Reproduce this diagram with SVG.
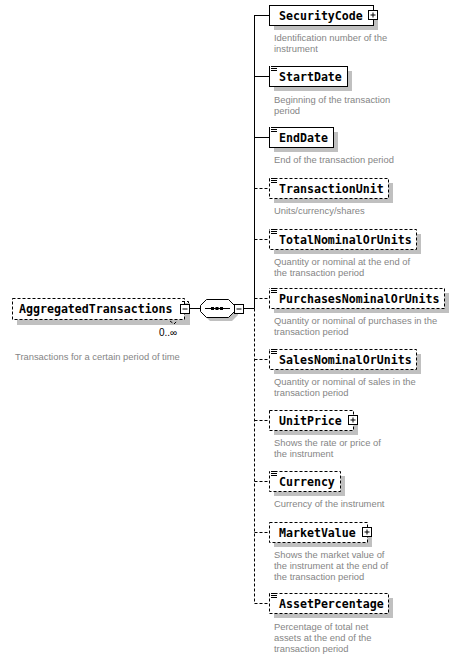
<svg xmlns="http://www.w3.org/2000/svg" width="460" height="658" viewBox="0 0 460 658">
<style>
.bg{fill:#fff}
.sh{fill:#c0c0c0}
.box{fill:#fff;stroke:#000;stroke-width:1}
.opt{stroke-dasharray:3,2}
.nm{font-family:"DejaVu Sans Mono","Liberation Mono",monospace;font-weight:bold;font-size:11.6px;fill:#000}
.ds{font-family:"Liberation Sans",Arial,sans-serif;font-size:9.4px;fill:#858585}
.oc{font-family:"Liberation Sans",Arial,sans-serif;font-size:10px;fill:#000}
.ln{stroke:#000;stroke-width:1;fill:none}
.ic{fill:#fff;stroke:#000;stroke-width:1}
</style>
<defs>
<g id="plus"><rect class="ic" x="0.5" y="0.5" width="9" height="9"/><path class="ln" d="M2.5 5H7.5M5 2.5V7.5"/></g>
<g id="minus"><rect class="ic" x="0.5" y="0.5" width="9" height="9"/><path class="ln" d="M2.5 5H7.5"/></g>
<g id="note"><rect fill="#fff" x="0" y="0" width="7" height="6"/><path class="ln" d="M1 0.5H7M1 2.5H7M1 4.5H7"/></g>
</defs>
<rect class="bg" width="460" height="658"/>

<g id="connectors">
<path class="ln" d="M189 308.5H200M244 308.5H254.5"/>
<path class="ln" d="M254.5 15V308.5"/>
<path class="ln opt" d="M254.5 308.5V603.5"/>
<path class="ln" d="M254.5 15.5H269M254.5 76.5H269M254.5 137.5H269"/>
<path class="ln opt" d="M254.5 188.5H269M254.5 239.5H269M254.5 298.5H269M254.5 359.5H269M254.5 420.5H269M254.5 481.5H269M254.5 532.5H269M254.5 603.5H269"/>
</g>

<g id="AggregatedTransactions">
<rect class="sh" x="17" y="303" width="173" height="22"/>
<rect class="box opt" x="12.5" y="298.5" width="172" height="21"/>
<path class="ln opt" d="M182 301.5H188.5V305"/>
<path class="ln opt" d="M170 321l4 3 3-3"/>
<text class="nm" x="19" y="313">AggregatedTransactions</text>
<use href="#minus" x="180" y="304"/>
<text class="oc" x="159" y="336">0..∞</text>
<text class="ds" x="15" y="360">Transactions for a certain period of time</text>
</g>

<g id="sequence">
<polygon class="sh" points="210,303 232,303 238,309 238,315 232,321 210,321 204,315 204,309"/>
<polygon class="box" points="206.5,299.5 228.5,299.5 234.5,305.5 234.5,311.5 228.5,317.5 206.5,317.5 200.5,311.5 200.5,305.5"/>
<path class="ln" d="M205 308.5H230"/>
<rect x="211" y="307" width="3" height="3" fill="#000"/>
<rect x="215.5" y="307" width="3" height="3" fill="#000"/>
<rect x="220" y="307" width="3" height="3" fill="#000"/>
<use href="#minus" x="234" y="304"/>
</g>

<g id="SecurityCode">
<rect class="sh" x="274" y="10" width="104" height="20"/>
<rect class="box" x="269.5" y="5.5" width="104" height="20"/>
<text class="nm" x="279" y="19.5">SecurityCode</text>
<use href="#plus" x="368" y="10"/>
<text class="ds" x="274" y="41">Identification number of the</text>
<text class="ds" x="274" y="52">instrument</text>
</g>

<g id="StartDate">
<rect class="sh" x="274" y="71" width="78" height="20"/>
<rect class="box" x="269.5" y="66.5" width="78" height="20"/>
<use href="#note" x="270" y="66"/>
<text class="nm" x="279" y="80.5">StartDate</text>
<text class="ds" x="274" y="102.5">Beginning of the transaction</text>
<text class="ds" x="274" y="113.5">period</text>
</g>

<g id="EndDate">
<rect class="sh" x="274" y="132" width="64" height="20"/>
<rect class="box" x="269.5" y="127.5" width="64" height="20"/>
<use href="#note" x="270" y="127"/>
<text class="nm" x="279" y="141.5">EndDate</text>
<text class="ds" x="274" y="163">End of the transaction period</text>
</g>

<g id="TransactionUnit">
<rect class="sh" x="274" y="183" width="119" height="20"/>
<rect class="box opt" x="269.5" y="178.5" width="119" height="20"/>
<use href="#note" x="270" y="178"/>
<text class="nm" x="279" y="192.5">TransactionUnit</text>
<text class="ds" x="274" y="214">Units/currency/shares</text>
</g>

<g id="TotalNominalOrUnits">
<rect class="sh" x="274" y="234" width="147" height="20"/>
<rect class="box opt" x="269.5" y="229.5" width="147" height="20"/>
<use href="#note" x="270" y="229"/>
<text class="nm" x="279" y="243.5">TotalNominalOrUnits</text>
<text class="ds" x="274" y="265">Quantity or nominal at the end of</text>
<text class="ds" x="274" y="276">the transaction period</text>
</g>

<g id="PurchasesNominalOrUnits">
<rect class="sh" x="274" y="293" width="175" height="20"/>
<rect class="box opt" x="269.5" y="288.5" width="175" height="20"/>
<use href="#note" x="270" y="288"/>
<text class="nm" x="279" y="302.5">PurchasesNominalOrUnits</text>
<text class="ds" x="274" y="324">Quantity or nominal of purchases in the</text>
<text class="ds" x="274" y="335">transaction period</text>
</g>

<g id="SalesNominalOrUnits">
<rect class="sh" x="274" y="354" width="147" height="20"/>
<rect class="box opt" x="269.5" y="349.5" width="147" height="20"/>
<use href="#note" x="270" y="349"/>
<text class="nm" x="279" y="363.5">SalesNominalOrUnits</text>
<text class="ds" x="274" y="385">Quantity or nominal of sales in the</text>
<text class="ds" x="274" y="396">transaction period</text>
</g>

<g id="UnitPrice">
<rect class="sh" x="274" y="415" width="84" height="20"/>
<rect class="box opt" x="269.5" y="410.5" width="84" height="20"/>
<text class="nm" x="279" y="424.5">UnitPrice</text>
<use href="#plus" x="348" y="415"/>
<text class="ds" x="274" y="446">Shows the rate or price of</text>
<text class="ds" x="274" y="457">the instrument</text>
</g>

<g id="Currency">
<rect class="sh" x="274" y="476" width="71" height="20"/>
<rect class="box opt" x="269.5" y="471.5" width="71" height="20"/>
<use href="#note" x="270" y="471"/>
<text class="nm" x="279" y="485.5">Currency</text>
<text class="ds" x="274" y="507">Currency of the instrument</text>
</g>

<g id="MarketValue">
<rect class="sh" x="274" y="527" width="98" height="20"/>
<rect class="box opt" x="269.5" y="522.5" width="98" height="20"/>
<text class="nm" x="279" y="536.5">MarketValue</text>
<use href="#plus" x="362" y="527"/>
<text class="ds" x="274" y="558">Shows the market value of</text>
<text class="ds" x="274" y="569">the instrument at the end of</text>
<text class="ds" x="274" y="580">the transaction period</text>
</g>

<g id="AssetPercentage">
<rect class="sh" x="274" y="598" width="119" height="20"/>
<rect class="box opt" x="269.5" y="593.5" width="119" height="20"/>
<use href="#note" x="270" y="593"/>
<text class="nm" x="279" y="607.5">AssetPercentage</text>
<text class="ds" x="274" y="629.5">Percentage of total net</text>
<text class="ds" x="274" y="640.5">assets at the end of the</text>
<text class="ds" x="274" y="651.5">transaction period</text>
</g>
</svg>
